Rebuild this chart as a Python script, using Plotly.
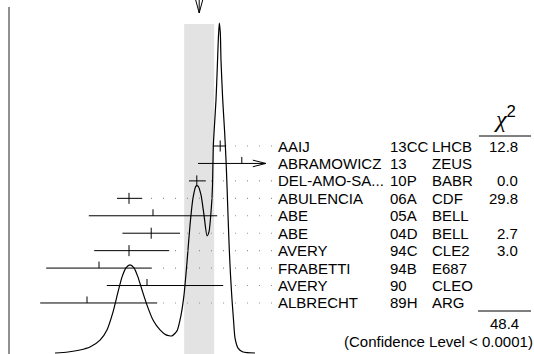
import plotly.graph_objects as go

# ---------------- data ----------------
names = ["AAIJ", "ABRAMOWICZ", "DEL-AMO-SA...", "ABULENCIA", "ABE", "ABE",
         "AVERY", "FRABETTI", "AVERY", "ALBRECHT"]
docs = ["13CC", "13", "10P", "06A", "05A", "04D", "94C", "94B", "90", "89H"]
tecns = ["LHCB", "ZEUS", "BABR", "CDF", "BELL", "BELL", "CLE2", "E687", "CLEO", "ARG"]
chi2_text = ["12.8", "", "0.0", "29.8", "", "2.7", "3.0", "", "", ""]
values = [35.2, 38.8, 31.3, 20.0, 24.0, 23.7, 20.0, 15.0, 23.0, 13.0]
err_minus = [1.2, 7.3, 1.3, 2.0, 10.7, 4.8, 5.8, 8.8, 6.7, 7.8]
err_plus = [1.0, 15.0, 1.5, 2.2, 10.7, 4.8, 6.7, 8.8, 12.7, 11.7]
used = [True, False, True, True, False, True, True, False, False, False]

average = 31.7
average_err = 2.5
chi2_total = "48.4"
cl_text = "(Confidence Level < 0.0001)"

# ideogram curve (x in MeV, relative height)
ideo_x = [7.67, 9.83, 11.83, 13.5, 15.17, 16.33, 17.33, 18.17, 18.83, 19.5,
          20.17, 20.83, 21.5, 22.17, 23.0, 24.0, 25.17, 26.17, 27.17, 28.0,
          28.67, 29.17, 29.67, 30.17, 30.67, 31.17, 31.5, 32.0, 32.5, 33.0,
          33.33, 33.78, 33.92, 34.05, 34.25, 34.5, 34.72, 34.88, 35.05, 35.22,
          35.33, 35.62, 35.92, 36.17, 36.33, 36.5, 36.72, 36.92, 37.17, 37.42,
          37.67, 38.17, 39.0, 41.0]
ideo_y = [0.0, 0.003, 0.009, 0.018, 0.039, 0.070, 0.124, 0.185, 0.230, 0.258,
          0.267, 0.258, 0.230, 0.191, 0.145, 0.100, 0.070, 0.055, 0.052, 0.067,
          0.115, 0.176, 0.276, 0.388, 0.470, 0.506, 0.506, 0.479, 0.418, 0.355,
          0.367, 0.455, 0.509, 0.627, 0.691, 0.767, 0.867, 0.948, 1.0, 0.970,
          0.888, 0.767, 0.676, 0.585, 0.509, 0.418, 0.312, 0.236, 0.161, 0.100,
          0.045, 0.015, 0.003, 0.0]

# ---------------- geometry / style ----------------
W, H = 534, 354
X_RANGE = [-1.5, 87.5]          # 6 px per MeV, 0 MeV at x=9px
PX_PER_X = W / (X_RANGE[1] - X_RANGE[0])
Y_RANGE = [-0.00303, 1.06970]   # curve axis
PX_PER_Y = H / (Y_RANGE[1] - Y_RANGE[0])
ROW_RANGE = [11.926, -8.372]    # row axis (reversed)
PX_PER_ROW = H / (ROW_RANGE[0] - ROW_RANGE[1])
X_CLIP = 42.8                   # right end of the drawn error bars
X_DOTS = 43.83                  # where leader dots end (next to labels)

def px2x(p):
    return p / PX_PER_X

def px2row(p):
    return p / PX_PER_ROW

fig = go.Figure()

# ideogram curve
fig.add_trace(go.Scatter(x=ideo_x, y=ideo_y, mode="lines",
                         line=dict(color="black", width=1.2, shape="spline", smoothing=0.6),
                         hoverinfo="skip"))

# error bars, ticks, leaders
bx, by, tx, ty = [], [], [], []
arrow_x, arrow_y = [], []
for i, (v, em, ep, u) in enumerate(zip(values, err_minus, err_plus, used)):
    lo, hi = v - em, v + ep
    clipped = hi > X_CLIP
    hi_d = min(hi, X_CLIP)
    bx += [lo, hi_d, None]
    by += [i, i, None]
    if u:
        t = px2row(5.5)
        tx += [v, v, None]
        ty += [i - t, i + t, None]
    else:
        tx += [v, v, None]
        ty += [i, i - px2row(6.5), None]
    if clipped:
        a_len, a_w = px2x(13), px2row(3.3)
        arrow_x += [X_CLIP - a_len, X_CLIP, X_CLIP - a_len, None]
        arrow_y += [i - a_w, i, i + a_w, None]
    else:
        fig.add_trace(go.Scatter(x=[X_DOTS, hi + px2x(5)], y=[i, i], yaxis="y2",
                                 mode="lines",
                                 line=dict(color="#909090", width=1.1, dash="1px,11px"),
                                 hoverinfo="skip"))

fig.add_trace(go.Scatter(x=bx, y=by, yaxis="y2", mode="lines",
                         line=dict(color="black", width=1), hoverinfo="skip"))
fig.add_trace(go.Scatter(x=tx, y=ty, yaxis="y2", mode="lines",
                         line=dict(color="black", width=1), hoverinfo="skip"))
fig.add_trace(go.Scatter(x=arrow_x, y=arrow_y, yaxis="y2", mode="lines",
                         line=dict(color="black", width=1), hoverinfo="skip"))

# arrow at the top marking the average
top_len = 13 / PX_PER_Y
hw = px2x(3.5)
fig.add_trace(go.Scatter(
    x=[average, average, None, average - hw, average, average + hw],
    y=[Y_RANGE[1], Y_RANGE[1] - top_len, None, Y_RANGE[1], Y_RANGE[1] - top_len, Y_RANGE[1]],
    mode="lines", line=dict(color="black", width=1), hoverinfo="skip", cliponaxis=False))

shapes = [
    # average band
    dict(type="rect", xref="x", yref="y", x0=average - average_err, x1=average + average_err,
         y0=Y_RANGE[0], y1=max(ideo_y) - 0.003, fillcolor="#e3e3e3", line=dict(width=0),
         layer="below"),
    # left axis line
    dict(type="line", xref="x", yref="paper", x0=0, x1=0, y0=0, y1=1 - 7 / H,
         line=dict(color="#222", width=1)),
    # chi2 header underline
    dict(type="line", xref="paper", yref="paper", x0=479 / W, x1=531 / W,
         y0=1 - 136 / H, y1=1 - 136 / H, line=dict(color="black", width=1)),
    # total underline
    dict(type="line", xref="paper", yref="paper", x0=478 / W, x1=531 / W,
         y0=1 - 311 / H, y1=1 - 311 / H, line=dict(color="black", width=1)),
]

FONT = "Liberation Sans, Arial, sans-serif"
ann = []
def label(text, xpx, row, anchor):
    ann.append(dict(text=text, x=xpx / W, xref="paper", y=row, yref="y2",
                    xanchor=anchor, yanchor="middle", showarrow=False,
                    borderpad=0, borderwidth=0,
                    font=dict(family=FONT, size=15, color="black")))

for i in range(len(names)):
    label(names[i], 278, i, "left")
    label(docs[i], 390, i, "left")
    label(tecns[i], 432, i, "left")
    if chi2_text[i]:
        label(chi2_text[i], 518, i, "right")

ann.append(dict(text="<i>χ</i><span style='font-family:Liberation Sans'><sup>2</sup></span>",
                x=505 / W, xref="paper", y=1 - 117 / H, yref="paper",
                xanchor="center", yanchor="middle", showarrow=False, borderpad=0, borderwidth=0,
                font=dict(family="Liberation Serif, serif", size=24, color="black")))
ann.append(dict(text=chi2_total, x=519 / W, xref="paper", y=1 - 323 / H, yref="paper",
                xanchor="right", yanchor="middle", showarrow=False, borderpad=0, borderwidth=0,
                font=dict(family=FONT, size=15, color="black")))
ann.append(dict(text=cl_text, x=533 / W, xref="paper", y=1 - 341 / H, yref="paper",
                xanchor="right", yanchor="middle", showarrow=False, borderpad=0, borderwidth=0,
                font=dict(family=FONT, size=15, color="black")))

fig.update_layout(
    width=W, height=H, margin=dict(l=0, r=0, t=0, b=0, pad=0),
    paper_bgcolor="white", plot_bgcolor="white", showlegend=False,
    xaxis=dict(range=X_RANGE, visible=False, fixedrange=True),
    yaxis=dict(range=Y_RANGE, visible=False, fixedrange=True),
    yaxis2=dict(range=ROW_RANGE, visible=False, overlaying="y", fixedrange=True),
    shapes=shapes, annotations=ann,
)

fig.write_html("out.html", config={"displayModeBar": False},
               post_script="document.body.style.margin='0';document.body.style.padding='0';")
